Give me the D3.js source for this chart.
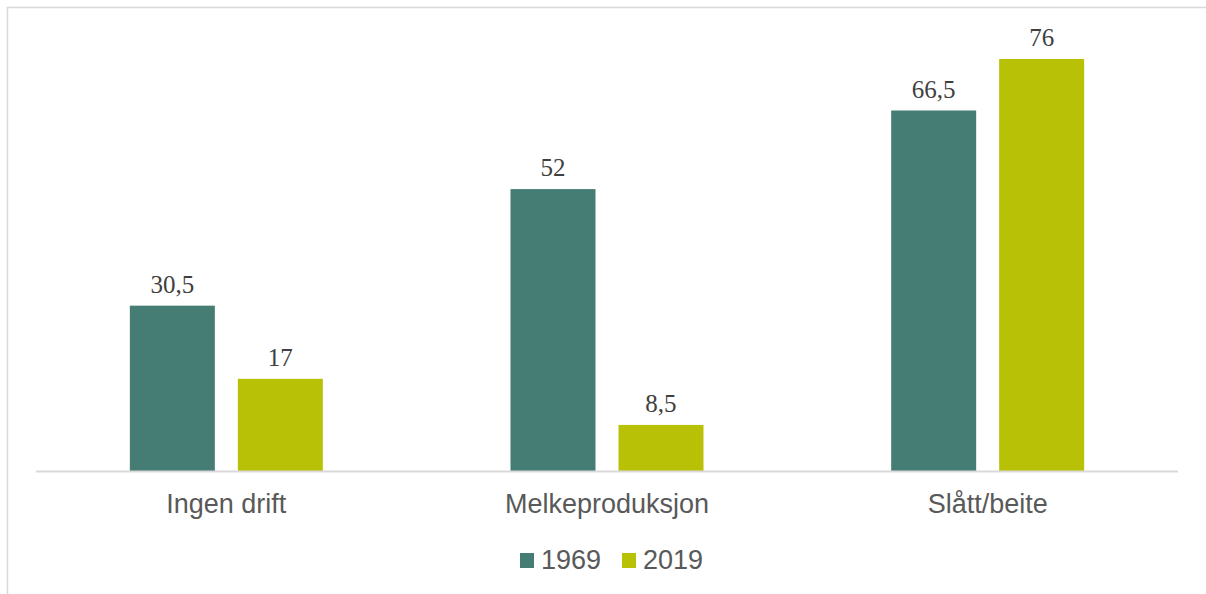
<!DOCTYPE html>
<html>
<head>
<meta charset="utf-8">
<script src="https://cdn.jsdelivr.net/npm/d3@7"></script>
<style>
  body { margin: 0; background: #fff; }
  svg { display: block; }
</style>
</head>
<body>
<svg id="chart" width="1206" height="594"></svg>
<script>
// data
const categories = ["Ingen drift", "Melkeproduksjon", "Slått/beite"];
const seriesNames = ["1969", "2019"];
const values1969 = [30.5, 52, 66.5];
const values2019 = [17, 8.5, 76];
const colors = ["#457c73", "#b9c106"];

const series = [values1969, values2019];
const fmt = v => String(v).replace(".", ",");

const svg = d3.select("#chart");
const W = 1206, H = 594;

// chart frame (only top and left edges fall inside the picture)
svg.append("rect")
  .attr("x", 7.5).attr("y", 7.5)
  .attr("width", W + 20).attr("height", H + 20)
  .attr("fill", "none")
  .attr("stroke", "#d9d9d9")
  .attr("stroke-width", 1.5);

const x0 = d3.scaleBand()
  .domain(categories)
  .range([36, 1178]);

const x1 = d3.scaleBand()
  .domain(seriesNames)
  .range([0, x0.bandwidth()])
  .paddingInner(0.213)
  .paddingOuter(0.869);

const y = d3.scaleLinear()
  .domain([0, 76])
  .range([471, 59]);

const groups = svg.append("g")
  .selectAll("g")
  .data(categories)
  .join("g")
  .attr("transform", d => `translate(${x0(d)},0)`);

groups.selectAll("rect")
  .data((c, i) => seriesNames.map((s, j) => ({ s, v: series[j][i], j })))
  .join("rect")
  .attr("x", d => x1(d.s))
  .attr("y", d => y(d.v))
  .attr("width", x1.bandwidth())
  .attr("height", d => y(0) - y(d.v))
  .attr("fill", d => colors[d.j]);

groups.selectAll("text.val")
  .data((c, i) => seriesNames.map((s, j) => ({ s, v: series[j][i], j })))
  .join("text")
  .attr("class", "val")
  .attr("x", d => x1(d.s) + x1.bandwidth() / 2)
  .attr("y", d => y(d.v) - 13)
  .attr("text-anchor", "middle")
  .style("font-family", "'Liberation Serif', 'DejaVu Serif', serif")
  .style("font-size", "25px")
  .attr("fill", "#404040")
  .text(d => fmt(d.v));

// baseline axis
svg.append("line")
  .attr("x1", 36).attr("x2", 1178)
  .attr("y1", y(0) + 0.5).attr("y2", y(0) + 0.5)
  .attr("stroke", "#d9d9d9")
  .attr("stroke-width", 2);

svg.append("g")
  .selectAll("text")
  .data(categories)
  .join("text")
  .attr("x", d => x0(d) + x0.bandwidth() / 2)
  .attr("y", 513)
  .attr("text-anchor", "middle")
  .style("font-family", "'Liberation Sans', Arial, sans-serif")
  .style("font-size", "27px")
  .attr("fill", "#595959")
  .text(d => d);

// legend
const legendX = [520, 622];
const legend = svg.append("g")
  .selectAll("g")
  .data(seriesNames)
  .join("g")
  .attr("transform", (d, i) => `translate(${legendX[i]},0)`);

legend.append("rect")
  .attr("x", 0).attr("y", 553)
  .attr("width", 14).attr("height", 15)
  .attr("fill", (d, i) => colors[i]);

legend.append("text")
  .attr("x", 21).attr("y", 569)
  .style("font-family", "'Liberation Sans', Arial, sans-serif")
  .style("font-size", "27px")
  .attr("fill", "#595959")
  .text(d => d);
</script>
</body>
</html>
